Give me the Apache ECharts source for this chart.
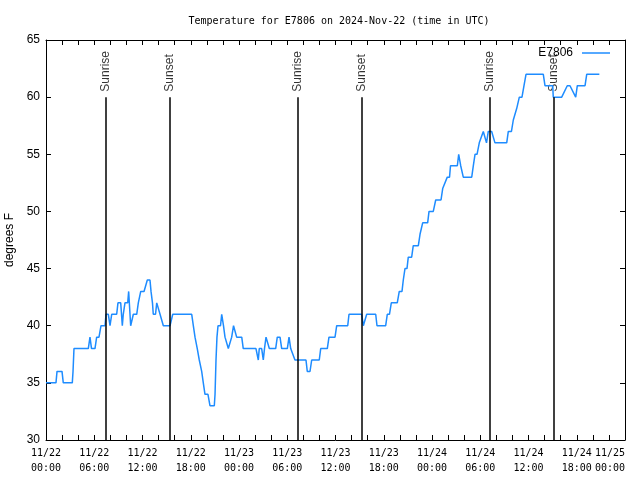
<!DOCTYPE html>
<html>
<head>
<meta charset="utf-8">
<script src="https://cdn.jsdelivr.net/npm/echarts@6/dist/echarts.min.js"></script>
<style>html,body{margin:0;padding:0;background:#fff;}#c{width:640px;height:480px;}</style>
</head>
<body>
<div id="c"></div>
<script>
// hours since 2024-11-22 00:00 UTC
const hours = [0,1.24,1.37,1.99,2.15,3.27,3.36,3.48,5.26,5.47,5.66,6.09,6.30,6.59,6.84,7.34,7.46,7.75,7.96,8.17,8.79,8.95,9.29,9.49,9.61,9.82,10.16,10.28,10.38,10.53,10.73,10.86,11.28,11.48,11.69,11.78,12.02,12.19,12.60,12.93,13.06,13.24,13.34,13.62,13.77,13.93,14.18,14.42,14.59,15.42,15.76,18.12,18.32,18.53,18.81,19.06,19.36,19.56,19.77,20.14,20.39,20.93,21.02,21.14,21.26,21.39,21.70,21.85,21.97,22.07,22.26,22.67,22.88,23.09,23.32,23.50,23.71,24.34,24.53,26.11,26.40,26.52,26.82,27.02,27.17,27.36,27.54,27.77,28.56,28.76,29.10,29.31,30.01,30.22,30.43,30.65,30.96,32.33,32.49,32.83,33.04,33.98,34.16,34.98,35.19,35.94,36.15,37.52,37.68,39.26,39.46,39.67,39.88,41.00,41.16,42.24,42.44,42.71,42.94,43.68,43.93,44.27,44.43,44.64,44.89,45.05,45.47,45.67,46.30,46.51,46.69,46.84,47.46,47.63,48.16,48.46,49.12,49.33,49.90,50.18,50.30,51.15,51.32,51.57,51.89,52.94,53.14,53.35,53.60,53.88,54.09,54.38,54.78,55.00,55.42,55.83,57.29,57.49,57.88,58.11,58.53,58.86,59.19,59.44,59.69,61.84,62.05,63.01,63.08,64.13,64.82,65.16,65.87,66.07,67.03,67.24,68.81];
const temps = [35,35,36,36,35,35,36,38,38,39,38,38,39,39,40,40,41,41,40,41,41,42,42,40,41,42,42,43,43,40,40,41,41,42,42,43,43,43,44,44,43,42,41,41,42,42,41,41,40,40,41,41,40,39,38,37,36,35,34,34,33,33,34,37,39,40,40,41,41,40,39,38,38,39,40,40,39,39,38,38,37,38,38,37,38,39,39,38,38,39,39,38,38,39,38,38,37,37,36,36,37,37,38,38,39,39,40,40,41,41,40,40,41,41,40,40,41,41,42,42,43,43,44,45,45,46,46,47,47,48,48,49,49,50,50,51,51,52,53,53,54,54,55,54,53,53,54,55,55,56,56,57,56,57,57,56,56,57,57,58,59,60,60,61,62,62,61,61,60,60,61,61,60,61,61,62,62];
const sunNames = ['Sunrise','Sunset','Sunrise','Sunset','Sunrise','Sunset'];
const sunHours = [7.37,15.42,31.25,39.26,55.13,63.08];
const sunTop = 60;
const tickLabels = ['11/22\n00:00','11/22\n06:00','11/22\n12:00','11/22\n18:00','11/23\n00:00','11/23\n06:00','11/23\n12:00','11/23\n18:00','11/24\n00:00','11/24\n06:00','11/24\n12:00','11/24\n18:00','11/25\n00:00'];
const seriesName = 'E7806';

const chart = echarts.init(document.getElementById('c'), null, {renderer:'canvas'});
const mono = 'DejaVu Sans Mono';
const sans = 'Liberation Sans';
const tickCommon = {show:true, inside:true, length:5, lineStyle:{color:'#000', width:1}};
const lineCommon = {show:true, onZero:false, lineStyle:{color:'#000', width:1}};

chart.setOption({
  animation:false,
  backgroundColor:'#fff',
  title:{
    text:'Temperature for E7806 on 2024-Nov-22 (time in UTC)',
    left:334, top:11, textAlign:'center',
    textStyle:{fontFamily:mono, fontSize:10, fontWeight:'normal', color:'#000'}
  },
  legend:{
    data:[{name:seriesName, icon:'rect'}],
    right:25, top:42, align:'right',
    itemWidth:28, itemHeight:1.5, itemGap:8,
    textStyle:{fontFamily:sans, fontSize:12, color:'#000', padding:[0,4,0,0]}
  },
  grid:{left:46, right:15, top:40, bottom:40, containLabel:false, outerBoundsMode:'none'},
  xAxis:[{
    type:'value', min:0, max:72, interval:2, position:'bottom',
    axisLine:lineCommon, axisTick:tickCommon, splitLine:{show:false},
    axisLabel:{
      margin:6, fontFamily:mono, fontSize:10, color:'#000', lineHeight:15,
      alignMaxLabel:'right',
      formatter:function(v){ return (v % 6 === 0) ? tickLabels[v/6] : ''; }
    }
  },{
    type:'value', min:0, max:72, interval:2, position:'top',
    axisLine:lineCommon, axisTick:tickCommon, splitLine:{show:false},
    axisLabel:{show:false}
  }],
  yAxis:[{
    type:'value', min:30, max:65, interval:5, position:'left',
    axisLine:lineCommon, axisTick:tickCommon, splitLine:{show:false},
    axisLabel:{margin:6, fontFamily:sans, fontSize:12, color:'#000'},
    name:'degrees F', nameLocation:'middle', nameGap:29, nameRotate:90,
    nameTextStyle:{fontFamily:sans, fontSize:12, color:'#000'}
  },{
    type:'value', min:30, max:65, interval:5, position:'right',
    axisLine:lineCommon, axisTick:tickCommon, splitLine:{show:false},
    axisLabel:{show:false}
  }],
  series:[{
    name:seriesName, type:'line', xAxisIndex:0, yAxisIndex:0,
    data:hours.map((h,i)=>[h,temps[i]]),
    showSymbol:false, symbol:'none',
    lineStyle:{color:'#1e8cff', width:1.5}, itemStyle:{color:'#1e8cff'},
    z:3,
    markLine:{
      silent:true, symbol:['none','none'], animation:false,
      label:{show:false},
      lineStyle:{color:'#000', width:1.5, type:'solid'},
      data:sunHours.map(h=>[{coord:[h,30]},{coord:[h,sunTop]}])
    }
  },{
    name:'sunLabels', type:'scatter', xAxisIndex:0, yAxisIndex:0,
    symbolSize:1, itemStyle:{color:'rgba(0,0,0,0)'}, silent:true,
    data:sunHours.map((h,i)=>({value:[h,sunTop], name:sunNames[i]})),
    label:{
      show:true, position:'top', distance:5, rotate:90,
      align:'left', verticalAlign:'middle',
      formatter:p=>p.name,
      fontFamily:sans, fontSize:12, color:'#000'
    }
  }]
});
</script>
</body>
</html>
